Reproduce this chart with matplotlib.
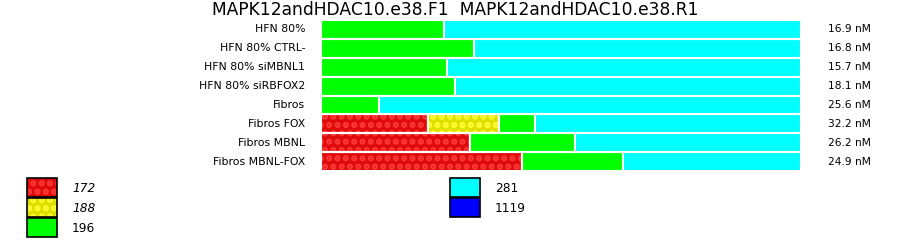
import numpy as np
import matplotlib
matplotlib.use('Agg')
import matplotlib.pyplot as plt
from matplotlib.patches import Rectangle

#---------Data------------------------
samples = ['HFN 80%', 'HFN 80% CTRL-', 'HFN 80% siMBNL1', 'HFN 80% siRBFOX2',
           'Fibros', 'Fibros FOX', 'Fibros MBNL', 'Fibros MBNL-FOX']
conc = ['16.9 nM', '16.8 nM', '15.7 nM', '18.1 nM', '25.6 nM', '32.2 nM', '26.2 nM', '24.9 nM']
# fraction of each peak per sample (172, 188, 196, 281)
frac_172 = [0.0, 0.0, 0.0, 0.0, 0.0, 0.223, 0.310, 0.419]
frac_188 = [0.0, 0.0, 0.0, 0.0, 0.0, 0.148, 0.0, 0.0]
frac_196 = [0.256, 0.319, 0.263, 0.279, 0.121, 0.075, 0.219, 0.210]
frac_281 = [1 - a - b - c for a, b, c in zip(frac_172, frac_188, frac_196)]

legend_labels = ['172', '188', '196', '281', '1119']
face = ['#e00c0c', '#e0e000', '#00ff00', '#00ffff', '#0000ff']
dots = ['#ff3a3a', '#ffff3a', None, None, None]

plt.rcParams['hatch.linewidth'] = 3.0
HATCH = '..'

fig = plt.figure(figsize=(9, 2.42), dpi=100)
ax = fig.add_axes([321/900, 1 - 171/242, 480/900, 151/242])

y = np.arange(len(samples))
segs = [frac_172, frac_188, frac_196, frac_281]
left = np.zeros(len(samples))
for k, vals in enumerate(segs):
    vals = np.array(vals)
    if dots[k]:
        ax.barh(y, vals, left=left, height=1.0, color=face[k], edgecolor=dots[k],
                hatch=HATCH, linewidth=0)
    else:
        ax.barh(y, vals, left=left, height=1.0, color=face[k], linewidth=0)
    ax.barh(y, vals, left=left, height=1.0, fill=False, edgecolor='white', linewidth=1.5)
    left += vals

ax.set_xlim(0, 1)
ax.set_ylim(len(samples) - 0.5, -0.5)
ax.axis('off')

for i, s in enumerate(samples):
    ax.text(-0.033, i, s, ha='right', va='center', fontsize=7.8)
    ax.text(1.057, i, conc[i], ha='left', va='center', fontsize=7.7)

fig.text(455/900, 1 - 10/242, 'MAPK12andHDAC10.e38.F1  MAPK12andHDAC10.e38.R1',
         ha='center', va='center', fontsize=12.3)

# legend boxes
W, H = 900, 242
def box(x, ytop, k, italic):
    xy = (x/W, 1 - (ytop + 19)/H)
    if dots[k]:
        fig.patches.append(Rectangle(xy, 30/W, 19/H, transform=fig.transFigure,
                                     facecolor=face[k], edgecolor=dots[k], linewidth=0,
                                     hatch=HATCH))
        fig.patches.append(Rectangle(xy, 30/W, 19/H, transform=fig.transFigure,
                                     fill=False, edgecolor='black', linewidth=1.2))
    else:
        fig.patches.append(Rectangle(xy, 30/W, 19/H, transform=fig.transFigure,
                                     facecolor=face[k], edgecolor='black', linewidth=1.2))
    fig.text((x + 45)/W, 1 - (ytop + 10)/H, legend_labels[k], ha='left', va='center',
             fontsize=8.7, style='italic' if italic else 'normal')

box(27, 178, 0, True)
box(27, 198, 1, True)
box(27, 218, 2, False)
box(450, 178, 3, False)
box(450, 198, 4, False)

fig.savefig('out.png', dpi=100)
